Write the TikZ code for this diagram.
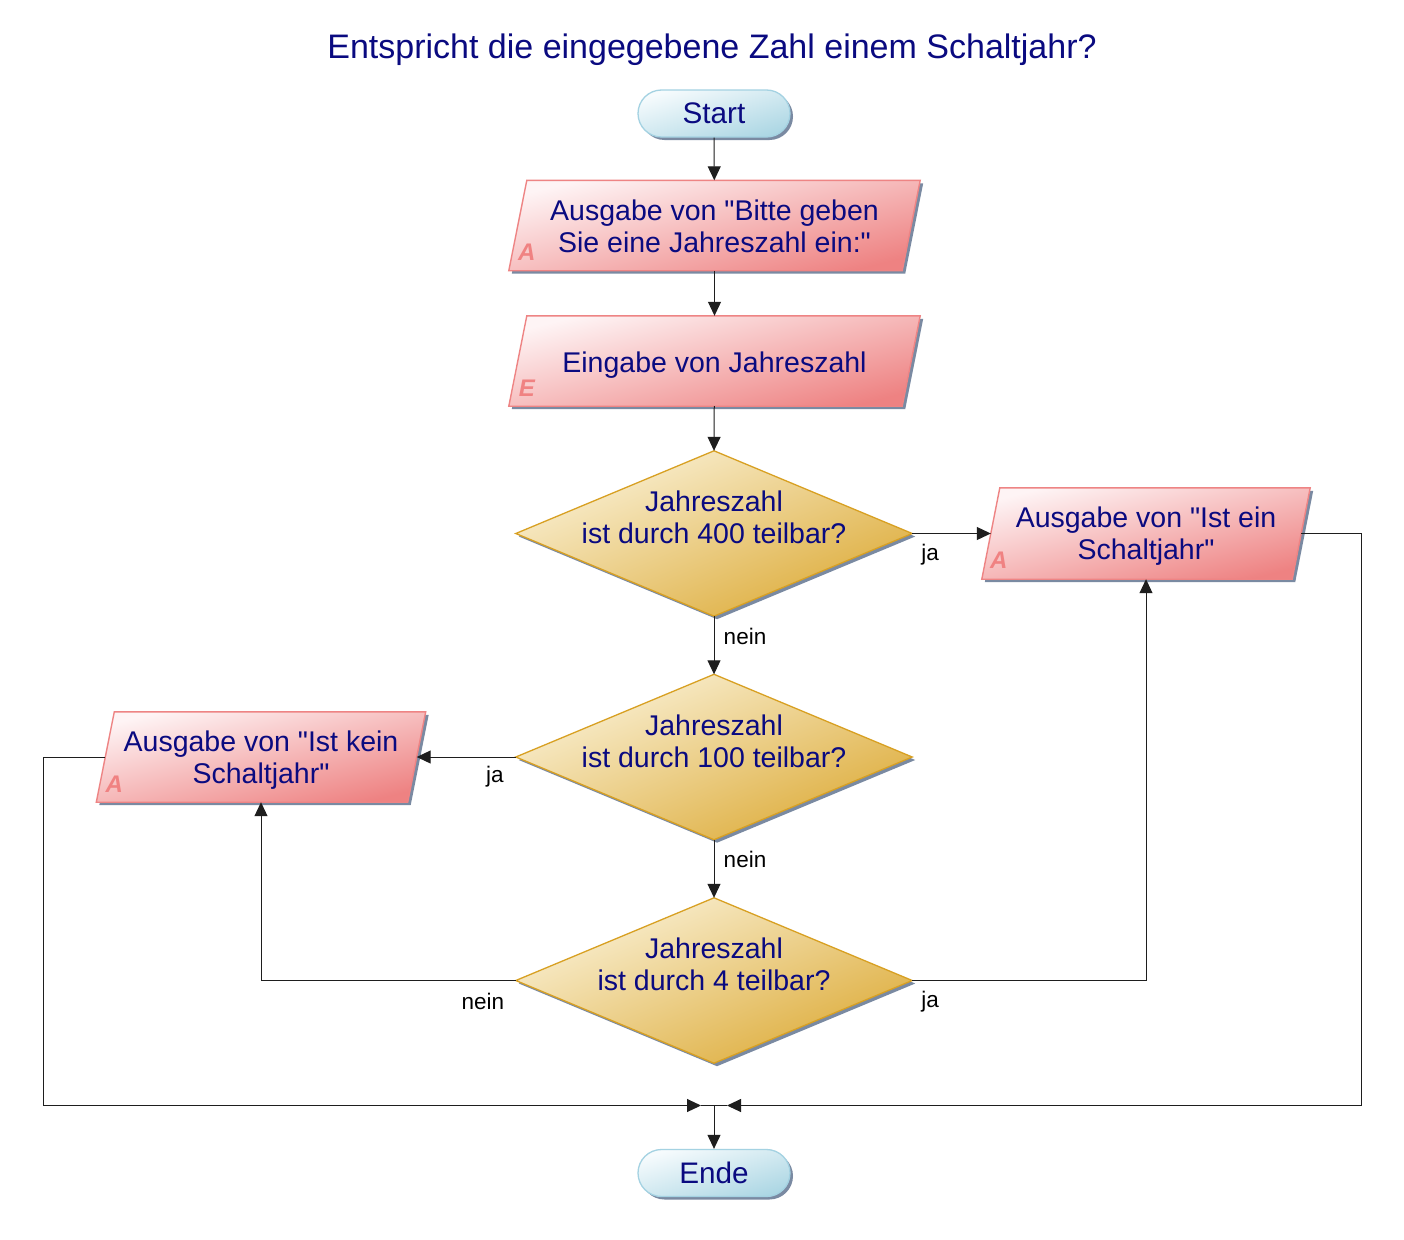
\documentclass[tikz,border=0pt]{standalone}
\usepackage{fontspec}
\setmainfont{Liberation Sans}[Ligatures=TeXOff]
\usetikzlibrary{arrows.meta,shadows,backgrounds,calc}
\definecolor{txt}{HTML}{0A0A80}
\definecolor{paraA}{HTML}{FEF4F5}
\definecolor{paraB}{HTML}{EE8282}
\definecolor{paraborder}{HTML}{EE8484}
\definecolor{diaA}{HTML}{FAF1D6}
\definecolor{diaB}{HTML}{DDAC3A}
\definecolor{diaborder}{HTML}{D8A022}
\definecolor{termA}{HTML}{F6FBFD}
\definecolor{termB}{HTML}{ADD7E4}
\definecolor{termborder}{HTML}{A4D2E2}
\definecolor{shadowc}{HTML}{7A8AA2}
\definecolor{linec}{HTML}{1E1E1E}
\definecolor{letterc}{HTML}{F08282}
\begin{document}
\begin{tikzpicture}[x=1pt,y=-1pt,
  body/.style={font=\fontsize{28.5}{32}\selectfont, text=txt},
  shad/.style={drop shadow={shadow xshift=3pt, shadow yshift=-3pt, fill=shadowc, opacity=1}},
  term/.style={rectangle, rounded corners=23.5pt, minimum width=152pt, minimum height=47pt,
    draw=termborder, line width=1.3pt, top color=termA, bottom color=termB, shading angle=17,
    shad, font=\fontsize{29.7}{32}\selectfont, text=txt, inner sep=0pt},
  pnode/.style={rectangle, inner sep=0pt},
  dnode/.style={rectangle, inner sep=0pt, minimum width=396pt, minimum height=165pt},
  dtext/.style={align=center, body, inner sep=0pt},
  para/.style={draw=paraborder, line width=1.4pt, top color=paraA, bottom color=paraB, shading angle=14, shad},
  dia/.style={draw=diaborder, line width=1.3pt, top color=diaA, bottom color=diaB, shading angle=23, shad},
  letter/.style={font=\fontsize{24}{26}\selectfont\bfseries\itshape, text=letterc, inner sep=0pt},
  lbl/.style={font=\fontsize{22.5}{24}\selectfont, text=black, inner sep=0pt},
  title/.style={font=\fontsize{34}{38}\selectfont, text=txt},
  line/.style={draw=linec, line width=1pt},
  conn/.style={line, -{Triangle[length=14pt,width=13pt]}}
]
\useasboundingbox (0,0) rectangle (1404,1239);

\node[title] (title) at (712,50) {Entspricht die eingegebene Zahl einem Schaltjahr?};

\node[term] (start) at (714,113.5) {Start};
\node[pnode, minimum width=393pt, minimum height=90pt,
  label={[dtext, yshift=-0.5pt]center:{Ausgabe von "Bitte geben\\Sie eine Jahreszahl ein:"}}] (p1) at (714.5,225.5) {};
\node[pnode, minimum width=393pt, minimum height=90pt,
  label={[dtext, yshift=-4pt]center:{Eingabe von Jahreszahl}}] (p2) at (714.5,361) {};
\node[dnode, label={[dtext, yshift=16pt]center:{Jahreszahl\\ist durch 400 teilbar?}}] (d1) at (714,533.5) {};
\node[dnode, label={[dtext, yshift=16pt]center:{Jahreszahl\\ist durch 100 teilbar?}}] (d2) at (714,757) {};
\node[dnode, label={[dtext, yshift=16pt]center:{Jahreszahl\\ist durch 4 teilbar?}}] (d3) at (714,980.5) {};
\node[pnode, minimum width=310pt, minimum height=91pt,
  label={[dtext, yshift=-3pt]center:{Ausgabe von "Ist ein\\Schaltjahr"}}] (yes) at (1146,533.5) {};
\node[pnode, minimum width=311pt, minimum height=90pt,
  label={[dtext, yshift=-3pt]center:{Ausgabe von "Ist kein\\Schaltjahr"}}] (no) at (261,757) {};
\node[term] (ende) at (714,1173) {Ende};
\coordinate (j) at (714,1105.5);

\begin{scope}[on background layer]
  \fill[white] (0,0) rectangle (1404,1239);
  \foreach \n in {p1,p2,yes,no}
    \path[para] ([xshift=9pt]\n.north west) -- ([xshift=9pt]\n.north east)
      -- ([xshift=-9pt]\n.south east) -- ([xshift=-9pt]\n.south west) -- cycle;
  \foreach \n in {d1,d2,d3}
    \path[dia] (\n.north) -- (\n.east) -- (\n.south) -- (\n.west) -- cycle;
\end{scope}

\node[letter] (la1) at ($(p1.west)+(9,27)$) {A};
\node[letter] (le2) at ($(p2.west)+(9,27)$) {E};
\node[letter] (lay) at ($(yes.west)+(8,27)$) {A};
\node[letter] (lan) at ($(no.west)+(9,27)$) {A};

\draw[conn] (start) -- (p1);
\draw[conn] (p1) -- (p2);
\draw[conn] (p2) -- (d1.north);
\draw[conn] (d1.east) -- (yes.west);
\draw[conn] (d1.south) -- (d2.north);
\draw[conn] (d2.west) -- (no.east);
\draw[conn] (d2.south) -- (d3.north);
\draw[conn] (d3.west) -| (no.south);
\draw[conn] (d3.east) -| (yes.south);
\draw[conn] (yes.east) -- ++(60,0) |- ($(j)+(13,0)$);
\draw[conn] (no.west) -- ++(-61.5,0) |- ($(j)+(-13,0)$);
\draw[line] ($(j)+(-13,0)$) -- ($(j)+(13,0)$);
\draw[conn] (j) -- (ende.north);

\node[lbl] (l1) at ($(d1.east)+(18,21)$) {ja};
\node[lbl] (l2) at ($(d1.south)+(31,20)$) {nein};
\node[lbl] (l3) at ($(d2.west)+(-21,20)$) {ja};
\node[lbl] (l4) at ($(d2.south)+(31,20)$) {nein};
\node[lbl] (l5) at ($(d3.west)+(-33,21)$) {nein};
\node[lbl] (l6) at ($(d3.east)+(18,21)$) {ja};
\end{tikzpicture}
\end{document}
